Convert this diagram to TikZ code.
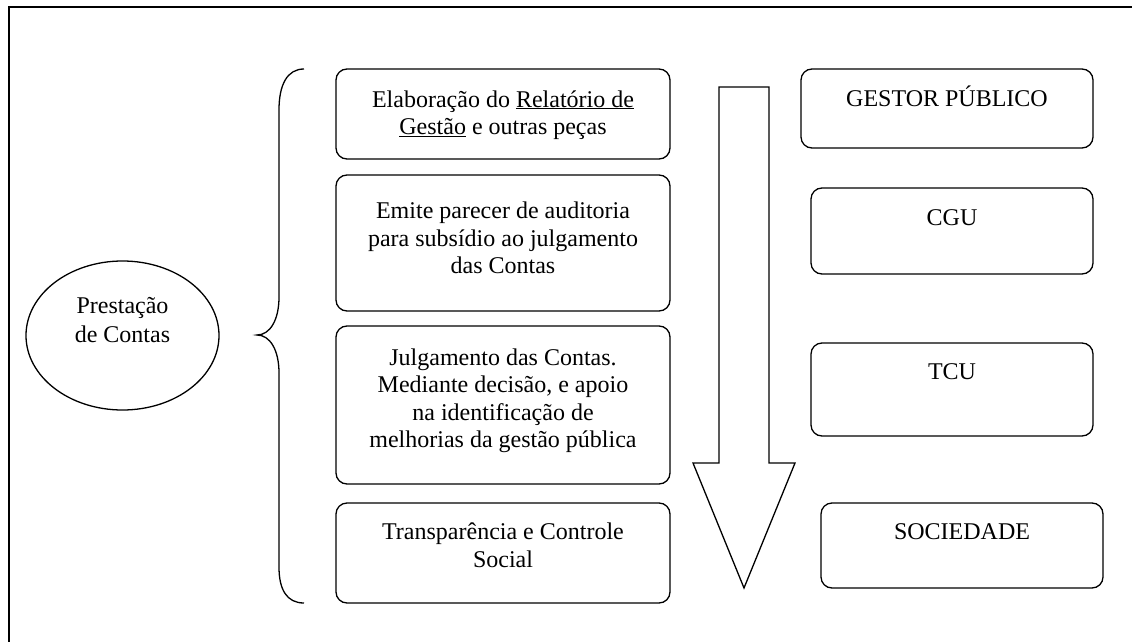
\documentclass[tikz,border=0pt]{standalone}
\usepackage{fontspec}
\setmainfont{Liberation Serif}
\usetikzlibrary{shapes.geometric}
\begin{document}
\begin{tikzpicture}[x=1pt,y=-1pt,
  rbox/.style={draw,line width=1.3pt,rounded corners=11pt,inner sep=0pt},
  txt/.style={align=center,inner sep=0pt,font=\fontsize{24}{27.5}\selectfont},
  ell/.style={draw,line width=1.3pt,ellipse,inner sep=0pt}]
\useasboundingbox (0,0) rectangle (1132,642);
\clip (0,0) rectangle (1132,642);
% frame
\draw[line width=2pt] (9,7) rectangle (1150,660);
% ellipse
\node[ell,minimum width=193pt,minimum height=149pt] (pc) at (122.5,335.5) {};
\node[txt] (pct) at (122.5,320.5) {Prestação\\[1.5pt]de Contas};
% brace
\coordinate (bt) at (304,69);
\coordinate (bm) at (257,335);
\coordinate (bb) at (304,603);
\draw[line width=1.3pt] (bt) .. controls (287,69) and (279,85) .. (279,110) -- (279,297)
  .. controls (279,320) and (270,335) .. (bm)
  .. controls (270,335) and (279,350) .. (279,373) -- (279,567)
  .. controls (279,590) and (287,603) .. (bb);
% left boxes
\node[rbox,minimum width=334pt,minimum height=90pt] (b1) at (503,114) {};
\node[txt] (t1) at (503,115) {Elaboração do \underline{Relatório de}\\\underline{Gestão} e outras peças};
\node[rbox,minimum width=334pt,minimum height=136pt] (b2) at (503,243) {};
\node[txt] (t2) at (503,238) {Emite parecer de auditoria\\para subsídio ao julgamento\\das Contas};
\node[rbox,minimum width=334pt,minimum height=158pt] (b3) at (503,405) {};
\node[txt] (t3) at (503,401) {Julgamento das Contas.\\Mediante decisão, e apoio\\na identificação de\\melhorias da gestão pública};
\node[rbox,minimum width=334pt,minimum height=100pt] (b4) at (503,553) {};
\node[txt] (t4) at (503,545.5) {Transparência e Controle\\Social};
% big arrow
\draw[line width=1.3pt,line join=miter] (719,87) -- (769,87) -- (769,463) -- (795,463) -- (744,588) -- (693,463) -- (719,463) -- cycle;
% right boxes
\node[rbox,minimum width=292pt,minimum height=79pt] (r1) at (947,108.5) {};
\node[txt,anchor=base] (s1) at (947,106) {GESTOR PÚBLICO};
\node[rbox,minimum width=282pt,minimum height=86pt] (r2) at (952,231) {};
\node[txt,anchor=base] (s2) at (952,225) {CGU};
\node[rbox,minimum width=282pt,minimum height=93pt] (r3) at (952,389.5) {};
\node[txt,anchor=base] (s3) at (952,379) {TCU};
\node[rbox,minimum width=282pt,minimum height=85pt] (r4) at (962,545.5) {};
\node[txt,anchor=base] (s4) at (962,539) {SOCIEDADE};
\end{tikzpicture}
\end{document}
